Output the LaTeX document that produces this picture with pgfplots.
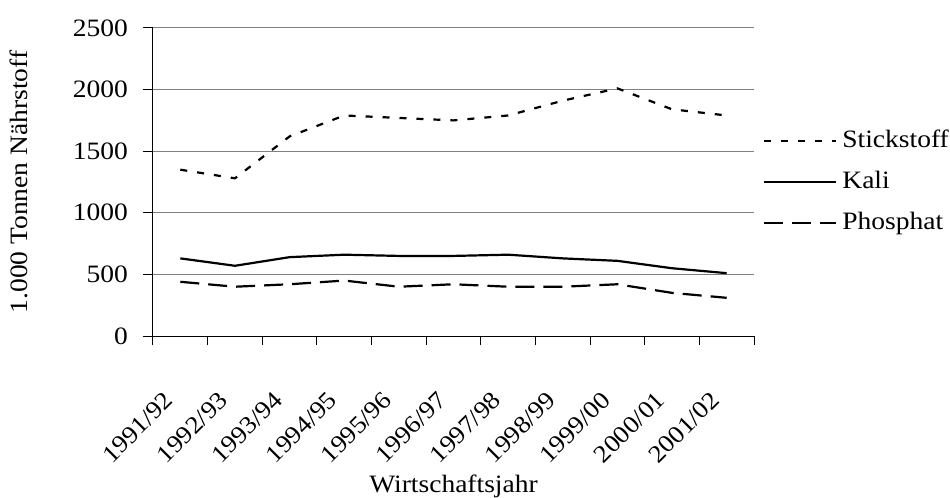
\documentclass[border=0pt]{standalone}
\usepackage{fontspec}
\setmainfont{Liberation Serif}[FakeStretch=1.1]
\usepackage{pgfplots}
\pgfplotsset{compat=1.18}

\begin{document}
\fontsize{25bp}{30bp}\selectfont
\begin{tikzpicture}
\path[use as bounding box] (-153bp,-162bp) rectangle (797bp,336bp);
\begin{axis}[
    at={(0,0)}, anchor=south west,
    scale only axis, width=601bp, height=308bp,
    xmin=0, xmax=11,
    ymin=0, ymax=2500,
    axis lines*=left,
    axis line style={-, line width=1bp},
    % label positions sit a little left of the category centres
    xtick={0.183,1.183,2.183,3.183,4.183,5.183,6.183,7.183,8.183,9.183,10.183},
    xticklabels={1991/92,1992/93,1993/94,1994/95,1995/96,1996/97,1997/98,1998/99,1999/00,2000/01,2001/02},
    minor xtick={0,1,...,11},
    ytick={0,500,...,2500},
    tick align=outside,
    major tick length=10bp,
    minor tick length=9bp,
    tick style={black, line width=1bp},
    major x tick style={draw=none},
    ymajorgrids=true,
    major grid style={gray, line width=1bp},
    /pgf/number format/assume math mode=true,
    /pgf/number format/1000 sep={},
    yticklabel style={inner sep=0pt, xshift=-15bp, font=\fontsize{25bp}{30bp}\selectfont},
    xticklabel style={inner sep=0pt, rotate=45, anchor=north east, font=\fontsize{24.5bp}{29bp}\selectfont},
    xticklabel shift=44bp,
    xlabel={Wirtschaftsjahr},
    ylabel={1.000 Tonnen Nährstoff},
    every axis x label/.style={at={(axis description cs:0.5,-0.5097)}, anchor=base},
    every axis y label/.style={at={(axis description cs:-0.208,0.5)}, rotate=90, anchor=base},
    legend style={draw=none, fill=none, at={(axis description cs:1.015,0.501)}, anchor=west,
        inner sep=0pt, row sep=18bp, column sep=5bp,
        nodes={inner sep=0pt, text height=18bp, text depth=5bp},
        cells={anchor=west}},
    legend image code/.code={\draw[#1] (0bp,0bp) -- (72bp,0bp);},
]
\addplot[black, line width=2.2bp, dash pattern=on 7bp off 10bp] coordinates {
    (0.5,1350)(1.5,1280)(2.5,1620)(3.5,1790)(4.5,1770)(5.5,1750)(6.5,1790)(7.5,1910)(8.5,2010)(9.5,1840)(10.5,1790)
};
\addplot[black, line width=2.2bp] coordinates {
    (0.5,630)(1.5,570)(2.5,640)(3.5,660)(4.5,650)(5.5,650)(6.5,660)(7.5,630)(8.5,610)(9.5,550)(10.5,510)
};
\addplot[black, line width=2.2bp, dash pattern=on 19bp off 9bp] coordinates {
    (0.5,440)(1.5,400)(2.5,420)(3.5,450)(4.5,400)(5.5,420)(6.5,400)(7.5,400)(8.5,420)(9.5,350)(10.5,310)
};
\legend{Stickstoff, Kali, Phosphat}
\end{axis}
\end{tikzpicture}
\end{document}
